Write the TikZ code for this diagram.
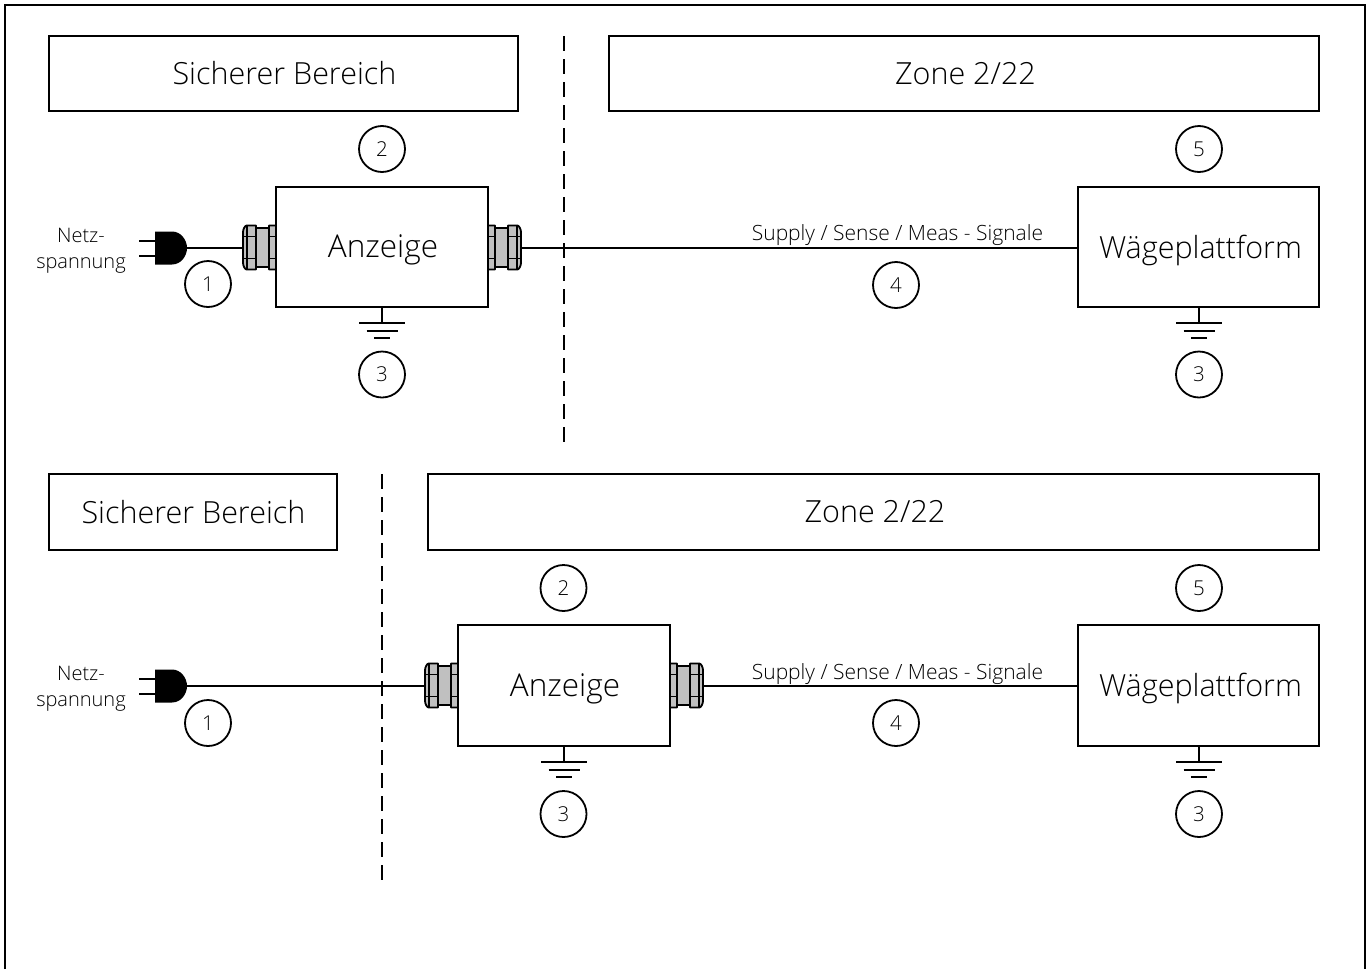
\documentclass[tikz,border=0pt]{standalone}
\usepackage{fontspec}
\setmainfont[UprightFont={* Light}]{Open Sans}
\definecolor{glandgray}{RGB}{192,192,192}
\tikzset{
  x=1pt,y=-1pt,
  lbox/.style={draw,line width=1.8pt,rectangle,inner sep=0pt},
  wire/.style={line width=2pt},
  dashline/.style={line width=2pt,dash pattern=on 15pt off 8pt},
  numcircle/.style={draw,circle,line width=1.8pt,minimum size=46pt,inner sep=0pt,font=\fontsize{20.5}{20.5}\selectfont},
  bigtext/.style={font=\fontsize{30.5}{30.5}\selectfont},
  smalltext/.style={font=\fontsize{20}{26}\selectfont,text depth=0pt,inner sep=0pt},
  sigtext/.style={font=\fontsize{21}{21}\selectfont,inner sep=0pt,anchor=base},
  gpart/.style={draw,line width=1.8pt,fill=glandgray,rounded corners=0.5pt},
  gland/.pic={
    \draw[gpart] (-7,-22)--(0,-22)--(0,22)--(-7,22)--cycle;
    \draw[line width=1.8pt] (-7,-11)--(0,-11) (-7,11)--(0,11);
    \draw[gpart] (-7,-19.5)--(-20,-19.5)--(-20,19.5)--(-7,19.5)--cycle;
    \draw[gpart] (-20,-22)--(-29,-22)
       .. controls (-31,-22) and (-33,-18) .. (-33,-15)
       -- (-33,15) .. controls (-33,18) and (-31,22) .. (-29,22)
       -- (-20,22)--cycle;
    \draw[line width=1.8pt] (-29,-22)--(-29,22);
    \draw[line width=1.8pt] (-33,-11)--(-20,-11) (-33,11)--(-20,11);
  },
  plug/.pic={
    \fill (-32,-16.5)--(-15,-16.5) .. controls (-6,-16.5) and (0,-8) .. (0,0)
       .. controls (0,8) and (-6,16.5) .. (-15,16.5)--(-32,16.5)--cycle;
    \draw[line width=2pt] (-32,-7.5)--(-48,-7.5) (-32,7.5)--(-48,7.5);
  },
  groundsym/.pic={
    \draw[line width=2pt] (0,0)--(0,16) (-23,16)--(23,16) (-15.5,24)--(15.5,24) (-8,31)--(8,31);
  },
}
\begin{document}
\begin{tikzpicture}
\useasboundingbox (0,0) rectangle (1372,969);
\draw[line width=2pt] (5,969)--(5,5)--(1365,5)--(1365,969);

% --- upper diagram ---
\node[lbox,minimum width=469pt,minimum height=75pt] (safeA) at (283.5,73.5) {};
\node[bigtext] at (284.5,73.5) {Sicherer Bereich};
\node[lbox,minimum width=710pt,minimum height=75pt] (zoneA) at (964,73.5) {};
\node[bigtext] at (965.5,73.5) {Zone 2/22};
\coordinate (sepAt) at (564,36);
\coordinate (sepAb) at (564,442);
\draw[dashline] (sepAt)--(sepAb);
\node[lbox,minimum width=212pt,minimum height=120pt] (dispA) at (382,247) {};
\node[bigtext,font=\fontsize{31.5}{31.5}\selectfont] at (383,250) {Anzeige};
\node[lbox,minimum width=241pt,minimum height=120pt] (platA) at (1198.5,247) {};
\node[bigtext] at (1200.5,250) {Wägeplattform};
\pic at (276,247.5) {gland};
\pic[xscale=-1] at (488,247.5) {gland};
\pic at (187,248) {plug};
\coordinate (plugA) at (187,248);
\coordinate (glAl) at (243,248);
\coordinate (glAr) at (521,248);
\draw[wire] (plugA)--(glAl);
\draw[wire] (glAr)--(platA.west |- glAr);
\node[smalltext,align=center] (netzA) at (81,248.5) {Netz-\\spannung};
\node[sigtext] (sigA) at (897.5,240) {Supply / Sense / Meas - Signale};
\pic at (382,307) {groundsym};
\pic at (1199,307) {groundsym};
\node[numcircle] (a2) at (382,149) {2};
\node[numcircle] (a5) at (1199,149) {5};
\node[numcircle] (a1) at (208,284) {1};
\node[numcircle] (a4) at (896,285) {4};
\node[numcircle] (a3l) at (382,374.5) {3};
\node[numcircle] (a3r) at (1199,374.5) {3};

% --- lower diagram ---
\node[lbox,minimum width=288pt,minimum height=76pt] (safeB) at (193,512) {};
\node[bigtext] at (193.5,512) {Sicherer Bereich};
\node[lbox,minimum width=891pt,minimum height=76pt] (zoneB) at (873.5,512) {};
\node[bigtext] at (875,512) {Zone 2/22};
\coordinate (sepBt) at (382,474);
\coordinate (sepBb) at (382,880);
\draw[dashline] (sepBt)--(sepBb);
\node[lbox,minimum width=212pt,minimum height=121pt] (dispB) at (564,685.5) {};
\node[bigtext,font=\fontsize{31.5}{31.5}\selectfont] at (565,688.5) {Anzeige};
\node[lbox,minimum width=241pt,minimum height=121pt] (platB) at (1198.5,685.5) {};
\node[bigtext] at (1200.5,688.5) {Wägeplattform};
\pic at (458,685.5) {gland};
\pic[xscale=-1] at (670,685.5) {gland};
\pic at (187,686) {plug};
\coordinate (plugB) at (187,686);
\coordinate (glBl) at (425,686);
\coordinate (glBr) at (703,686);
\draw[wire] (plugB)--(glBl);
\draw[wire] (glBr)--(platB.west |- glBr);
\node[smalltext,align=center] (netzB) at (81,686.5) {Netz-\\spannung};
\node[sigtext] (sigB) at (897.5,679) {Supply / Sense / Meas - Signale};
\pic at (564,746) {groundsym};
\pic at (1199,746) {groundsym};
\node[numcircle] (b2) at (563.5,588) {2};
\node[numcircle] (b5) at (1199,588) {5};
\node[numcircle] (b1) at (208,723) {1};
\node[numcircle] (b4) at (896,723) {4};
\node[numcircle] (b3l) at (563.5,814) {3};
\node[numcircle] (b3r) at (1199,814) {3};
\end{tikzpicture}
\end{document}
